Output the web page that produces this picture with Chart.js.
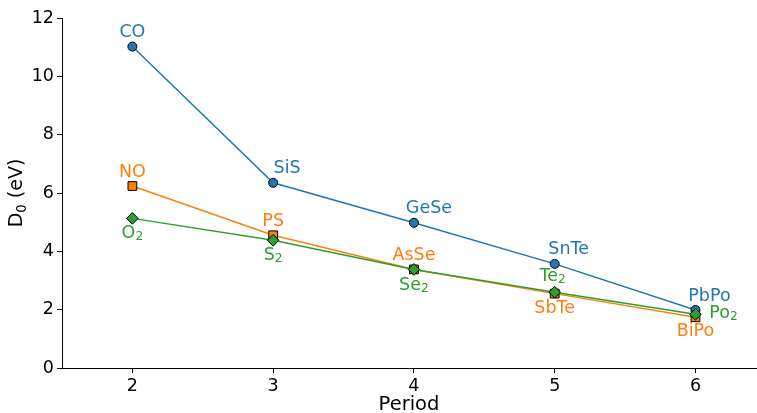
<!DOCTYPE html>
<html>
<head>
<meta charset="utf-8">
<script src="https://cdn.jsdelivr.net/npm/chart.js@4/dist/chart.umd.min.js"></script>
<style>
html,body{margin:0;padding:0;background:#fff;}
canvas{display:block;}
</style>
</head>
<body>
<canvas id="c" width="757" height="413"></canvas>
<script>
// ---- data ----
const periods = [2, 3, 4, 5, 6];
const yTicks = [0, 2, 4, 6, 8, 10, 12];
const group14Names = ['CO', 'SiS', 'GeSe', 'SnTe', 'PbPo'];
const group14Values = [11.02, 6.35, 4.98, 3.57, 1.99];
const group15Names = ['NO', 'PS', 'AsSe', 'SbTe', 'BiPo'];
const group15Values = [6.24, 4.55, 3.38, 2.55, 1.74];
const group16Names = ['O₂', 'S₂', 'Se₂', 'Te₂', 'Po₂'];
const group16Values = [5.13, 4.38, 3.38, 2.60, 1.84];
const xTitle = 'Period';
const yTitle = 'D₀ (eV)';

// ---- label placement (pixel offsets from point) ----
const labelOffsets = [
  [[0,-14],[14,-14],[15,-14],[14,-14],[14,-14]],
  [[0,-14],[0,-14],[0,-14],[0,15],[0,14]],
  [[0,15],[0,15],[0,16],[-2,-16],[28,-1]]
];
const FONT = "'DejaVu Sans', sans-serif";
const colors = ['#1f77b4', '#ff7f0e', '#2ca02c'];
const SUBS = {'₀':'0','₁':'1','₂':'2','₃':'3','₄':'4','₅':'5','₆':'6','₇':'7','₈':'8','₉':'9'};

function pts(vals) { return periods.map((p, i) => ({x: p, y: vals[i]})); }

// draw text with real subscripts (smaller and lowered), centred at x
function drawRich(ctx, text, x, y, size) {
  const segs = [];
  for (const ch of text) {
    const sub = ch in SUBS;
    const c = sub ? SUBS[ch] : ch;
    if (segs.length && segs[segs.length - 1].sub === sub) segs[segs.length - 1].t += c;
    else segs.push({t: c, sub});
  }
  const subSize = size * 0.7;
  let total = 0;
  segs.forEach(s => {
    ctx.font = (s.sub ? subSize : size) + 'px ' + FONT;
    s.w = ctx.measureText(s.t).width;
    total += s.w;
  });
  let cx = x - total / 2;
  ctx.textAlign = 'left';
  segs.forEach(s => {
    ctx.font = (s.sub ? subSize : size) + 'px ' + FONT;
    ctx.fillText(s.t, cx, y + (s.sub ? size * 0.22 : 0));
    cx += s.w;
  });
}

const labelPlugin = {
  id: 'pointLabels',
  afterDatasetsDraw(chart) {
    const ctx = chart.ctx;
    const names = [group14Names, group15Names, group16Names];
    const ca = chart.chartArea;
    ctx.save();
    ctx.textBaseline = 'middle';
    chart.data.datasets.forEach((ds, di) => {
      const meta = chart.getDatasetMeta(di);
      ctx.fillStyle = colors[di];
      meta.data.forEach((el, i) => {
        const o = labelOffsets[di][i];
        drawRich(ctx, names[di][i], el.x + o[0], el.y + o[1], 17.5);
      });
    });
    // y-axis title with subscript
    ctx.fillStyle = '#000';
    ctx.translate(22, (ca.top + ca.bottom) / 2);
    ctx.rotate(-Math.PI / 2);
    ctx.textBaseline = 'alphabetic';
    drawRich(ctx, yTitle, 0, 0, 19);
    ctx.restore();
  }
};

new Chart(document.getElementById('c'), {
  type: 'scatter',
  data: {
    datasets: [
      {data: pts(group14Values), showLine: true, borderColor: colors[0], backgroundColor: colors[0],
       borderWidth: 1.5, pointStyle: 'circle', pointRadius: 4.5, pointBorderColor: '#000', pointBorderWidth: 1, order: 3},
      {data: pts(group15Values), showLine: true, borderColor: colors[1], backgroundColor: colors[1],
       borderWidth: 1.5, pointStyle: 'rect', pointRadius: 6.2, pointBorderColor: '#000', pointBorderWidth: 1, order: 2},
      {data: pts(group16Values), showLine: true, borderColor: colors[2], backgroundColor: colors[2],
       borderWidth: 1.5, pointStyle: 'rectRot', pointRadius: 5.8, pointBorderColor: '#000', pointBorderWidth: 1, order: 1}
    ]
  },
  options: {
    responsive: false,
    animation: false,
    events: [],
    layout: {autoPadding: false, padding: {top: 18, right: 1, left: 0, bottom: 0}},
    plugins: {legend: {display: false}, tooltip: {enabled: false}},
    scales: {
      x: {
        type: 'linear', min: 1.5, max: 6.43,
        afterBuildTicks: s => { s.ticks = periods.map(v => ({value: v})); },
        afterFit: s => { s.height = 45; },
        grid: {drawOnChartArea: false, drawTicks: true, tickLength: 5, tickColor: '#000', tickWidth: 1},
        border: {display: true, color: '#000', width: 1},
        ticks: {color: '#000', font: {family: FONT, size: 17.5}, padding: 3, maxRotation: 0, callback: v => String(v)},
        title: {display: true, text: xTitle, color: '#000', font: {family: FONT, size: 19.5, lineHeight: 0.85}, padding: {top: 0, bottom: 0}}
      },
      y: {
        type: 'linear', min: 0, max: 12,
        afterBuildTicks: s => { s.ticks = yTicks.map(v => ({value: v})); },
        afterFit: s => { s.width = 62; },
        grid: {drawOnChartArea: false, drawTicks: true, tickLength: 5, tickColor: '#000', tickWidth: 1},
        border: {display: true, color: '#000', width: 1},
        ticks: {color: '#000', font: {family: FONT, size: 17.5}, padding: 3, callback: v => String(v)},
        title: {display: false}
      }
    }
  },
  plugins: [labelPlugin]
});
</script>
</body>
</html>
